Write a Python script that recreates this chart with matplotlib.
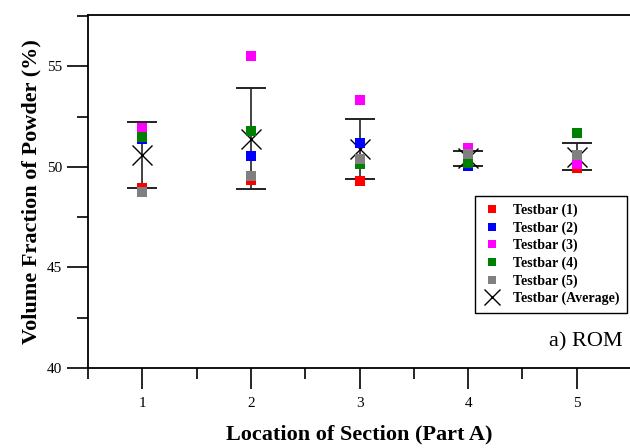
import matplotlib.pyplot as plt
import numpy as np
from matplotlib.ticker import MultipleLocator

plt.rcParams['font.family'] = ['Liberation Serif', 'DejaVu Serif']

locations = np.array([1, 2, 3, 4, 5])
testbar1 = np.array([48.95, 49.35, 49.3, 50.3, 49.95])
testbar2 = np.array([51.4, 50.55, 51.2, 50.03, 50.15])
testbar3 = np.array([51.95, 55.5, 53.3, 50.95, 50.13])
testbar4 = np.array([51.5, 51.8, 50.15, 50.2, 51.7])
testbar5 = np.array([48.75, 49.55, 50.4, 50.65, 50.6])
average = np.array([50.58, 51.4, 50.9, 50.42, 50.5])
err = np.array([1.65, 2.52, 1.48, 0.36, 0.67])

labels = ['Testbar (1)', 'Testbar (2)', 'Testbar (3)', 'Testbar (4)', 'Testbar (5)']
colors = ['#ff0000', '#0000ff', '#ff00ff', '#008000', '#808080']

fig = plt.figure(figsize=(6.3, 4.48), dpi=100)
ax = fig.add_axes([0.1397, 0.1786, 0.8619, 0.7879])

ax.errorbar(locations, average, yerr=err, fmt='none', ecolor='#222222',
            elinewidth=1.2, capsize=11, capthick=1.4, zorder=2)
ax.plot(locations, average, 'x', color='black', ms=14, mew=1.0,
        label='Testbar (Average)', zorder=3)
series = [testbar1, testbar2, testbar3, testbar4, testbar5]
for vals, c, lab in zip(series, colors, labels):
    ax.plot(locations, vals, 's', color=c, ms=6.5, mew=0, label=lab, zorder=4)

ax.set_xlim(0.5, 5.5)
ax.set_ylim(40, 57.55)
ax.xaxis.set_major_locator(MultipleLocator(1))
ax.xaxis.set_minor_locator(MultipleLocator(0.5))
ax.yaxis.set_major_locator(MultipleLocator(5))
ax.yaxis.set_minor_locator(MultipleLocator(2.5))
ax.tick_params(which='major', direction='out', length=15, width=1.2, labelsize=11)
ax.tick_params(which='minor', direction='out', length=8, width=1.2)
ax.tick_params(axis='x', pad=6)
ax.spines['right'].set_visible(False)
for s in ['left', 'bottom', 'top']:
    ax.spines[s].set_linewidth(1.3)

ax.set_xlabel('Location of Section (Part A)', fontsize=16, fontweight='bold', labelpad=10)
ax.set_ylabel('Volume Fraction of Powder (%)', fontsize=16, fontweight='bold', labelpad=4)

h, l = ax.get_legend_handles_labels()
order = [1, 2, 3, 4, 5, 0]
leg = ax.legend([h[i] for i in order], [l[i] for i in order], loc='lower right',
                bbox_to_anchor=(0.993, 0.156), borderaxespad=0, fancybox=False,
                edgecolor='black', framealpha=1, prop={'weight': 'bold', 'size': 10},
                handlelength=1.4, handletextpad=0.8, borderpad=0.55, labelspacing=0.3,
                markerscale=0.85)
leg.get_frame().set_linewidth(1.0)

ax.text(0.985, 0.075, 'a) ROM', transform=ax.transAxes, ha='right', va='center', fontsize=16)

fig.savefig('out.png', dpi=100)
